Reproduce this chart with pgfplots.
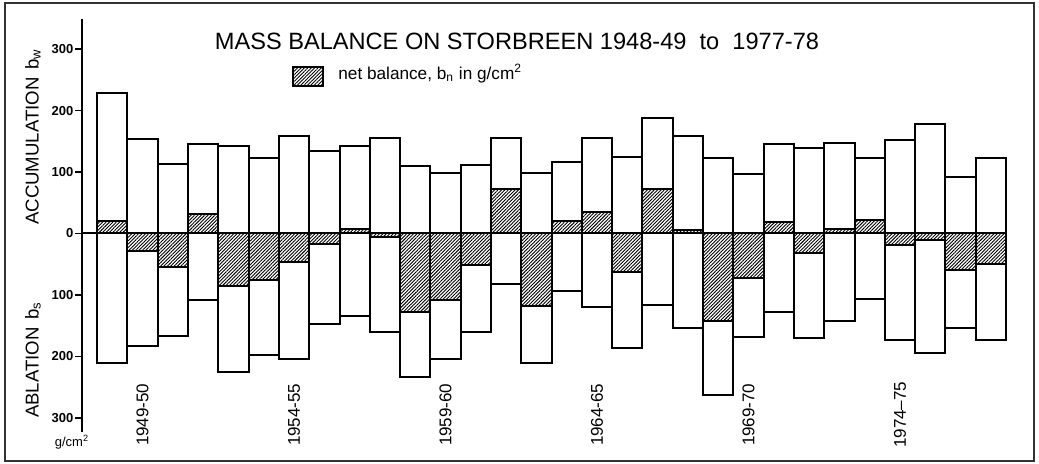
\documentclass[border=0pt]{standalone}
\usepackage{fontspec}
\setmainfont{Liberation Sans}
\usepackage{pgfplots}
\pgfplotsset{compat=1.18}
\usepackage{pgfplotstable}
\usetikzlibrary{patterns.meta}

\pgfplotstableread{
yr bw bs bn
1 229 -210 21
2 153 -183 -28
3 113 -166 -54
4 146 -109 32
5 142 -226 -85
6 123 -197 -75
7 159 -204 -47
8 135 -147 -17
9 142 -135 7
10 155 -160 -6
11 109 -233 -127
12 98 -204 -108
13 111 -161 -52
14 155 -82 72
15 98 -211 -118
16 117 -94 20
17 155 -120 35
18 125 -186 -62
19 188 -117 72
20 159 -153 6
21 122 -262 -142
22 97 -168 -73
23 146 -128 18
24 139 -170 -31
25 148 -143 7
26 123 -107 22
27 152 -173 -19
28 178 -194 -11
29 92 -153 -59
30 122 -174 -49
}\mb

\tikzset{hatch/.style={pattern={Lines[angle=45,distance=1.2pt,line width=0.45pt]}}}

\begin{document}
\begin{tikzpicture}
\useasboundingbox (0,0) rectangle (519.5pt,232pt);
\draw[line width=0.9pt, black!80] (2.5pt,1.5pt) rectangle (517pt,230.5pt);
\begin{axis}[
  at={(41pt,16pt)}, anchor=south west, scale only axis,
  width=462pt, height=206.5pt,
  xmin=0, xmax=30.5, ymin=-323, ymax=349,
  axis x line=none, axis y line=left,
  y axis line style={-, line width=0.8pt},
  ytick={-300,-200,-100,0,100,200,300},
  yticklabels={300,200,100,0,100,200,300},
  tick align=outside, major tick length=3.5pt,
  ytick style={line width=0.8pt, black},
  yticklabel style={font=\fontsize{6.5}{7}\selectfont\bfseries, inner sep=0.6pt},
  clip=false,
  bars/.style={ybar, bar width=1, bar shift=0pt},
]
% fills
\addplot[bars, fill=white, draw=none] table[x=yr,y=bw]{\mb};
\addplot[bars, fill=white, draw=none] table[x=yr,y=bs]{\mb};
\addplot[bars, draw=none, hatch] table[x=yr,y=bn]{\mb};
% outlines
\addplot[bars, fill=none, draw=black, line width=1pt] table[x=yr,y=bw]{\mb};
\addplot[bars, fill=none, draw=black, line width=1pt] table[x=yr,y=bs]{\mb};
\addplot[bars, fill=none, draw=black, line width=1pt] table[x=yr,y=bn]{\mb};
\draw[line width=1pt] (axis cs:0,0) -- (axis cs:30.5,0);
\node[rotate=90, font=\fontsize{8.5}{10}\selectfont] at (axis cs:2,-295) {1949-50};
\node[rotate=90, font=\fontsize{8.5}{10}\selectfont] at (axis cs:7,-295) {1954-55};
\node[rotate=90, font=\fontsize{8.5}{10}\selectfont] at (axis cs:12,-295) {1959-60};
\node[rotate=90, font=\fontsize{8.5}{10}\selectfont] at (axis cs:17,-295) {1964-65};
\node[rotate=90, font=\fontsize{8.5}{10}\selectfont] at (axis cs:22,-295) {1969-70};
\node[rotate=90, font=\fontsize{8.5}{10}\selectfont] at (axis cs:27,-295) {1974--75};
\end{axis}
\node[font=\fontsize{11.8}{13}\selectfont] at (258.5pt,211.5pt) {MASS BALANCE ON STORBREEN 1948-49\ \ to\ \ 1977-78};
\draw[line width=0.8pt, hatch] (146.5pt,189pt) rectangle (161.5pt,198.5pt);
\node[anchor=base west, font=\fontsize{8.6}{10}\selectfont, inner sep=0pt] at (169pt,192pt) {net balance, b\textsubscript{n} in g/cm\textsuperscript{2}};
\node[rotate=90, font=\fontsize{9.3}{11}\selectfont] at (16.5pt,163.5pt) {ACCUMULATION\hspace{0.4em}b\textsubscript{w}};
\node[rotate=90, font=\fontsize{9.3}{11}\selectfont] at (16.5pt,52pt) {ABLATION\hspace{0.4em}b\textsubscript{s}};
\node[font=\fontsize{6.5}{8}\selectfont] at (36pt,11pt) {g/cm\textsuperscript{2}};
\end{tikzpicture}
\end{document}
